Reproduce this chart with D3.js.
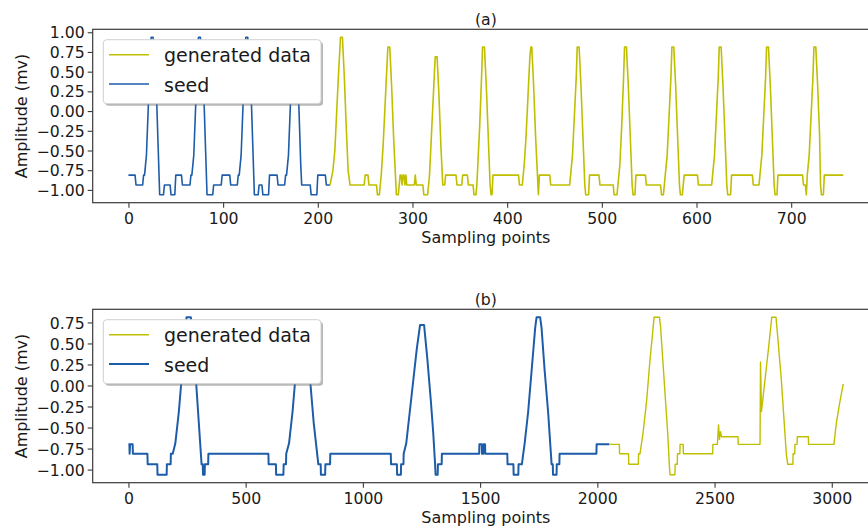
<!DOCTYPE html>
<html>
<head>
<meta charset="utf-8">
<script src="https://cdn.jsdelivr.net/npm/d3@7"></script>
<style>
  html, body { margin: 0; padding: 0; background: #fff; }
  svg { display: block; }
  text { font-family: "DejaVu Sans", sans-serif; fill: #1a1a1a; }
</style>
</head>
<body>
<svg id="chart" width="868" height="528"></svg>
<script>
// ---- data: [sample index, amplitude (mv)] vertices ----
const seedA = [
  [0,-0.8125],[7,-0.8125],[8,-0.9375],[15,-0.9375],[16,-0.8125],[17,-0.8125],[19,-0.5625],[21,0.0625],[23,0.6875],[24,0.9375],[26,0.9375],[28,0.4375],[30,0.0625],[32,-0.6875],[33,-1.0625],[37,-1.0625],[38,-0.9375],[44,-0.9375],[45,-1.0625],[49,-1.0625],[50,-0.8125],[56,-0.8125],[57,-0.9375],[65,-0.9375],[66,-0.8125],[67,-0.8125],
  [69,-0.5625],[71,0.0625],[73,0.6875],[74,0.9375],[76,0.9375],[78,0.4375],[80,0.0625],[82,-0.6875],[83,-1.0625],[89,-1.0625],[90,-0.9375],[98,-0.9375],[99,-0.8125],[107,-0.8125],[108,-0.9375],[115,-0.9375],[116,-0.8125],[117,-0.8125],
  [119,-0.5625],[121,0.0625],[123,0.6875],[124,0.9375],[126,0.9375],[128,0.4375],[130,0.0625],[132,-0.6875],[133,-1.0625],[137,-1.0625],[138,-0.9375],[141,-0.9375],[142,-1.0625],[148,-1.0625],[149,-0.8125],[157,-0.8125],[158,-0.9375],[165,-0.9375],[166,-0.8125],[167,-0.8125],
  [169,-0.5625],[171,0.0625],[173,0.5625],[174,0.8125],[176,0.8125],[178,0.4375],[180,0.0625],[182,-0.6875],[183,-0.9375],[192,-0.9375],[193,-1.0625],[199,-1.0625],[200,-0.8125],[208,-0.8125],[209,-0.9375],[213,-0.9375]
];
const genA = [
  [213,-0.9375],[215,-0.8125],[216,-0.75],[218,-0.5],[220,0],[222,0.5],[224,0.9375],[226,0.9375],[228,0.4375],[230,-0.1875],[232,-0.75],[234,-0.9375],[249,-0.9375],[250,-0.8125],[253,-0.8125],[254,-0.9375],[262,-0.9375],[263,-1.0625],[265,-1.0625],[266,-0.9375],
  [267,-0.8125],[269,-0.4375],[271,0.0625],[273,0.5625],[274,0.8125],[276,0.8125],[278,0.3125],[280,-0.3125],[282,-0.8125],[283,-1.0625],[285,-1.0625],[286,-0.9375],[287,-0.8125],[288,-0.8125],[289,-0.9375],[290,-0.8125],[291,-0.8125],[292,-0.9375],[293,-0.8125],[294,-0.9375],[302,-0.9375],[303,-0.8125],[304,-0.9375],[311,-0.9375],[312,-1.0625],[316,-1.0625],[317,-0.9375],
  [318,-0.8125],[320,-0.3125],[322,0.1875],[324,0.6875],[326,0.6875],[328,0.1875],[330,-0.4375],[332,-0.9375],[334,-0.9375],[335,-0.8125],[346,-0.8125],[347,-0.9375],[352,-0.9375],[353,-0.8125],[358,-0.8125],[359,-0.9375],[364,-0.9375],[365,-1.0625],[367,-1.0625],[368,-0.9375],
  [369,-0.6875],[371,-0.1875],[373,0.4375],[374,0.8125],[376,0.8125],[378,0.3125],[380,-0.3125],[382,-0.9375],[383,-1.0625],[384,-1.0625],[385,-0.8125],[412,-0.8125],[413,-0.9375],[416,-0.9375],
  [418,-0.6875],[420,-0.3125],[422,0.1875],[424,0.6875],[425,0.8125],[426,0.8125],[428,0.3125],[430,-0.3125],[432,-0.8125],[433,-1.0625],[434,-0.8125],[445,-0.8125],[446,-0.9375],[466,-0.9375],
  [467,-0.8125],[469,-0.5625],[471,-0.0625],[473,0.4375],[474,0.8125],[476,0.8125],[478,0.3125],[480,-0.3125],[482,-0.9375],[483,-1.0625],[486,-1.0625],[487,-0.8125],[497,-0.8125],[498,-0.9375],[512,-0.9375],[513,-1.0625],[516,-1.0625],[517,-0.9375],[518,-0.8125],
  [519,-0.6875],[521,-0.1875],[523,0.4375],[524,0.8125],[526,0.8125],[528,0.3125],[530,-0.3125],[532,-0.9375],[533,-1.0625],[535,-1.0625],[536,-0.8125],[546,-0.8125],[547,-0.9375],[562,-0.9375],[563,-1.0625],[565,-1.0625],[566,-0.9375],[567,-0.8125],
  [569,-0.5625],[571,-0.0625],[573,0.4375],[574,0.8125],[576,0.8125],[578,0.3125],[580,-0.3125],[582,-0.9375],[583,-1.0625],[585,-1.0625],[587,-0.8125],[601,-0.8125],[602,-0.9375],[616,-0.9375],[617,-0.8125],
  [619,-0.5625],[621,-0.0625],[623,0.4375],[624,0.8125],[626,0.8125],[628,0.3125],[630,-0.3125],[632,-0.9375],[633,-1.0625],[636,-1.0625],[637,-0.8125],[659,-0.8125],[660,-0.9375],[666,-0.9375],[667,-0.8125],
  [669,-0.5625],[671,-0.0625],[673,0.4375],[674,0.8125],[676,0.8125],[678,0.3125],[680,-0.3125],[682,-0.9375],[683,-1.0625],[685,-1.0625],[686,-0.8125],[712,-0.8125],[713,-0.9375],[715,-0.9375],[716,-1.0625],[717,-0.8125],
  [719,-0.5625],[721,-0.0625],[723,0.4375],[724,0.8125],[726,0.8125],[728,0.3125],[730,-0.3125],[731,-0.9375],[732,-1.0625],[734,-1.0625],[735,-0.8125],[755,-0.8125]
];
const seedB = [
  [0,-0.7],[4,-0.7],[5,-0.8125],[7,-0.7],[18,-0.7],[19,-0.8125],[81,-0.8125],[82,-0.9375],[123,-0.9375],[124,-1.0625],[163,-1.0625],[164,-0.9375],[180,-0.9375],[181,-0.8125],[189,-0.8125],
  [200,-0.6875],[215,-0.3125],[230,0.1875],[243,0.6875],[248,0.8125],[266,0.8125],[272,0.6875],[285,0.1875],[300,-0.4375],[312,-0.9375],[317,-0.9375],[318,-1.0625],[325,-1.0625],[326,-0.9375],[340,-0.9375],[341,-0.8125],[597,-0.8125],[598,-0.9375],[629,-0.9375],[630,-1.0625],[661,-1.0625],[662,-0.9375],[672,-0.9375],[673,-0.8125],
  [685,-0.6875],[700,-0.3125],[715,0.1875],[732,0.5625],[738,0.6875],[752,0.6875],[758,0.5625],[775,0.0625],[790,-0.4375],[805,-0.8125],[810,-0.9375],[820,-0.9375],[821,-1.0625],[839,-1.0625],[840,-0.9375],[860,-0.9375],[861,-0.8125],[1119,-0.8125],[1120,-0.9375],[1145,-0.9375],[1146,-1.0625],[1162,-1.0625],[1163,-0.9375],[1173,-0.9375],[1174,-0.8125],
  [1185,-0.6875],[1200,-0.3125],[1215,0.0625],[1230,0.4375],[1244,0.72],[1261,0.72],[1275,0.3125],[1290,-0.1875],[1300,-0.5625],[1308,-0.9375],[1310,-1.0625],[1319,-1.0625],[1320,-0.9375],[1336,-0.9375],[1337,-0.8125],[1496,-0.8125],[1497,-0.7],[1507,-0.7],[1508,-0.8125],[1514,-0.8125],[1515,-0.7],[1521,-0.7],[1522,-0.8125],[1616,-0.8125],[1617,-0.9375],[1642,-0.9375],[1643,-1.0625],[1663,-1.0625],[1664,-0.9375],[1678,-0.9375],
  [1690,-0.6875],[1705,-0.3125],[1720,0.1875],[1735,0.6875],[1741,0.8125],[1756,0.8125],[1762,0.6875],[1775,0.1875],[1790,-0.3125],[1805,-0.9375],[1810,-0.9375],[1811,-1.0625],[1826,-1.0625],[1827,-0.9375],[1838,-0.9375],[1839,-0.8125],[1996,-0.8125],[1997,-0.7],[2051,-0.7]
];
const genB = [
  [2051,-0.7],[2094,-0.7],[2095,-0.8125],[2133,-0.8125],[2134,-0.9375],[2175,-0.9375],[2176,-0.8125],[2182,-0.8125],
  [2195,-0.5625],[2210,-0.1875],[2225,0.3125],[2238,0.6875],[2242,0.8125],[2265,0.8125],[2270,0.6875],[2285,0.0625],[2300,-0.5625],[2307,-0.9375],[2310,-1.0625],[2331,-1.0625],[2332,-0.9375],[2341,-0.9375],[2342,-0.8125],[2352,-0.8125],[2353,-0.7],[2366,-0.7],[2367,-0.8125],[2492,-0.8125],[2493,-0.7],[2512,-0.7],[2517,-0.47],[2521,-0.64],[2525,-0.55],[2530,-0.61],[2600,-0.61],[2601,-0.7],[2694,-0.7],[2696,0.28],[2700,-0.31],
  [2715,0.0625],[2730,0.4375],[2744,0.8125],[2762,0.8125],[2770,0.5625],[2785,0.0625],[2800,-0.5625],[2806,-0.8125],[2812,-0.9375],[2834,-0.9375],[2835,-0.8125],[2842,-0.8125],[2843,-0.7],[2852,-0.7],[2853,-0.61],[2900,-0.61],[2901,-0.7],[3009,-0.7],[3020,-0.4375],[3035,-0.1875],[3049,0.02]
];

const xTicksA = [0, 100, 200, 300, 400, 500, 600, 700];
const yTicksA = [-1.00, -0.75, -0.50, -0.25, 0.00, 0.25, 0.50, 0.75, 1.00];
const xTicksB = [0, 500, 1000, 1500, 2000, 2500, 3000];
const yTicksB = [-1.00, -0.75, -0.50, -0.25, 0.00, 0.25, 0.50, 0.75];
const panelTitles = ["(a)", "(b)"];
const seriesNames = ["generated data", "seed"];
const xLabel = "Sampling points";
const yLabel = "Amplitude (mv)";

// ---- layout ----
const W = 868, H = 528;
const COL_GEN = "#bfbf00", COL_SEED = "#1d5ca9";
const svg = d3.select("#chart");
svg.append("rect").attr("width", W).attr("height", H).attr("fill", "#fff");

const panels = [
  { id: "a", top: 29.3, bottom: 202.7, seed: seedA, gen: genA, xt: xTicksA, yt: yTicksA, title: panelTitles[0], wSeed: 1.6, wGen: 1.6 },
  { id: "b", top: 309.3, bottom: 482.7, seed: seedB, gen: genB, xt: xTicksB, yt: yTicksB, title: panelTitles[1], wSeed: 2.0, wGen: 1.4 }
];
const left = 92.7, right = 879;

const fmtY = v => d3.format(".2f")(v).replace("-", "\u2212");

// autoscale with a 5% margin on each side
function padded(ext) {
  const r = ext[1] - ext[0];
  return [ext[0] - 0.05 * r, ext[1] + 0.05 * r];
}

panels.forEach(p => {
  const all = p.seed.concat(p.gen);
  const x = d3.scaleLinear().domain(padded(d3.extent(all, d => d[0]))).range([left, right]);
  const y = d3.scaleLinear().domain(padded(d3.extent(all, d => d[1]))).range([p.bottom, p.top]);

  const g = svg.append("g");

  // clip region for data lines
  svg.append("clipPath").attr("id", "clip-" + p.id)
    .append("rect").attr("x", left).attr("y", p.top)
    .attr("width", right - left).attr("height", p.bottom - p.top);

  const line = d3.line().x(d => x(d[0])).y(d => y(d[1]));

  g.append("path").datum(p.seed).attr("d", line)
    .attr("fill", "none").attr("stroke", COL_SEED).attr("stroke-width", p.wSeed)
    .attr("stroke-linejoin", "round").attr("clip-path", `url(#clip-${p.id})`);
  g.append("path").datum(p.gen).attr("d", line)
    .attr("fill", "none").attr("stroke", COL_GEN).attr("stroke-width", p.wGen)
    .attr("stroke-linejoin", "round").attr("clip-path", `url(#clip-${p.id})`);

  // frame
  g.append("rect").attr("x", left).attr("y", p.top)
    .attr("width", right - left).attr("height", p.bottom - p.top)
    .attr("fill", "none").attr("stroke", "#3a3a3a").attr("stroke-width", 1.2);

  // axes
  const xa = g.append("g").attr("transform", `translate(0,${p.bottom})`)
    .call(d3.axisBottom(x).tickValues(p.xt).tickFormat(d3.format("d")).tickSize(5).tickSizeOuter(0));
  const ya = g.append("g").attr("transform", `translate(${left},0)`)
    .call(d3.axisLeft(y).tickValues(p.yt).tickFormat(fmtY).tickSize(5).tickPadding(3).tickSizeOuter(0));
  [xa, ya].forEach(a => {
    a.select(".domain").remove();
    a.selectAll(".tick line").attr("stroke", "#3a3a3a").attr("stroke-width", 1.1);
    a.selectAll(".tick text").attr("font-family", "DejaVu Sans").attr("font-size", 15.7).attr("fill", "#1a1a1a");
  });
  xa.selectAll(".tick text").attr("y", 0).attr("dy", 21.8);
  ya.selectAll(".tick text").attr("dy", 5.6);

  // labels
  const cx = (left + right) / 2;
  g.append("text").attr("x", cx).attr("y", p.top - 4.8).attr("text-anchor", "middle")
    .attr("font-size", 15.7).text(p.title);
  g.append("text").attr("x", cx).attr("y", p.bottom + 39.8).attr("text-anchor", "middle")
    .attr("font-size", 16).text(xLabel);
  g.append("text").attr("transform", `translate(27,${(p.top + p.bottom) / 2}) rotate(-90)`)
    .attr("text-anchor", "middle").attr("font-size", 16).text(yLabel);

  // legend
  const lg = g.append("g").attr("transform", `translate(103.3,${p.top + 10.4})`);
  lg.append("rect").attr("x", 2).attr("y", 2).attr("width", 217.7).attr("height", 64)
    .attr("rx", 3.5).attr("fill", "#7a7a7a").attr("opacity", 0.55);
  lg.append("rect").attr("width", 217.7).attr("height", 64).attr("rx", 3.5)
    .attr("fill", "#fff").attr("stroke", "#d0d0d0").attr("stroke-width", 1);
  const rows = [
    { name: seriesNames[0], color: COL_GEN, w: p.wGen, ly: 15 },
    { name: seriesNames[1], color: COL_SEED, w: p.wSeed, ly: 44.3 }
  ];
  rows.forEach(r => {
    lg.append("line").attr("x1", 5.7).attr("x2", 45.7).attr("y1", r.ly).attr("y2", r.ly)
      .attr("stroke", r.color).attr("stroke-width", r.w);
    lg.append("text").attr("x", 60.7).attr("y", r.ly + 7.6).attr("font-size", 19).text(r.name);
  });
});
</script>
</body>
</html>
